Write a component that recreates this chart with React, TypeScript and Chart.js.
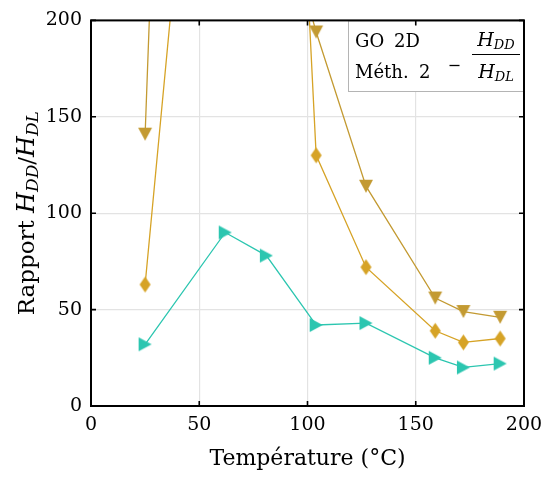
import React, { useEffect, useRef } from 'react';
import { Chart, registerables } from 'chart.js';

Chart.register(...registerables);

// ---- Data ----
const temperatures = [25, 62, 81, 104, 127, 159, 172, 189];
// GO 2D, méthode 2 : rapport H_DD / H_DL (values at 62 and 81 lie far above the axis)
const rapportTriangleDown = [141, 1270, 286, 194, 114, 56, 49, 46];
const rapportDiamond = [63, 503, 650, 130, 72, 39, 33, 35];
const rapportTriangleRight = [32, 90, 78, 42, 43, 25, 20, 22];

const xTickValues = [0, 50, 100, 150, 200];
const yTickValues = [0, 50, 100, 150, 200];

const xTitle = 'Température (°C)';
const yTitleWord = 'Rapport ';
const legendLine1 = ['GO', '2D'];
const legendLine2 = ['Méth.', '2'];

const GOLD_DARK = '#c39a32';
const GOLD = '#d6a326';
const TEAL = '#2cc6b0';

const SERIF = '"DejaVu Serif", serif';

function makeMarker(kind: string, color: string, w: number, h: number) {
  const pad = 1;
  const c = document.createElement('canvas');
  c.width = w + pad * 2;
  c.height = h + pad * 2;
  const g = c.getContext('2d')!;
  g.fillStyle = color;
  g.beginPath();
  const x0 = pad, y0 = pad;
  if (kind === 'down') {
    g.moveTo(x0, y0);
    g.lineTo(x0 + w, y0);
    g.lineTo(x0 + w / 2, y0 + h);
  } else if (kind === 'right') {
    g.moveTo(x0, y0);
    g.lineTo(x0 + w, y0 + h / 2);
    g.lineTo(x0, y0 + h);
  } else {
    g.moveTo(x0 + w / 2, y0);
    g.lineTo(x0 + w, y0 + h / 2);
    g.lineTo(x0 + w / 2, y0 + h);
    g.lineTo(x0, y0 + h / 2);
  }
  g.closePath();
  g.fill();
  return c;
}

type Part = { t: string; font: string; dy?: number };

function partsWidth(ctx: CanvasRenderingContext2D, parts: Part[]) {
  let w = 0;
  for (const p of parts) {
    ctx.font = p.font;
    w += ctx.measureText(p.t).width;
  }
  return w;
}

function drawParts(ctx: CanvasRenderingContext2D, parts: Part[], cx: number, baseline: number) {
  const total = partsWidth(ctx, parts);
  let x = cx - total / 2;
  ctx.textAlign = 'left';
  ctx.textBaseline = 'alphabetic';
  for (const p of parts) {
    ctx.font = p.font;
    ctx.fillText(p.t, x, baseline + (p.dy || 0));
    x += ctx.measureText(p.t).width;
  }
}

const decorPlugin = {
  id: 'decor',
  afterDraw(chart: any) {
    const { ctx, chartArea } = chart;
    const { left, right, top, bottom } = chartArea;
    const xs = chart.scales.x;
    const ys = chart.scales.y;
    ctx.save();

    // legend box
    const boxL = 348.5;
    const boxB = 91.5;
    ctx.fillStyle = '#ffffff';
    ctx.fillRect(boxL, top, right - boxL, boxB - top);
    ctx.strokeStyle = '#b4b4b4';
    ctx.lineWidth = 1;
    ctx.strokeRect(boxL, top + 0.5, right - boxL, boxB - top - 0.5);

    ctx.fillStyle = '#000';
    ctx.textAlign = 'left';
    ctx.textBaseline = 'alphabetic';
    ctx.font = `18px ${SERIF}`;
    ctx.fillText(legendLine1[0], 355, 47);
    ctx.fillText(legendLine1[1], 394, 47);
    ctx.fillText(legendLine2[0], 355, 78);
    ctx.fillText(legendLine2[1], 419, 78);
    // dash between label and fraction
    ctx.strokeStyle = '#000';
    ctx.lineWidth = 1.3;
    ctx.beginPath();
    ctx.moveTo(449.5, 65.5);
    ctx.lineTo(459.5, 65.5);
    ctx.stroke();
    const num: Part[] = [
      { t: 'H', font: `italic 19px ${SERIF}` },
      { t: 'DD', font: `italic 13px ${SERIF}`, dy: 3 },
    ];
    const den: Part[] = [
      { t: 'H', font: `italic 19px ${SERIF}` },
      { t: 'DL', font: `italic 13px ${SERIF}`, dy: 3 },
    ];
    drawParts(ctx, num, 496, 46);
    drawParts(ctx, den, 496, 78);
    ctx.lineWidth = 1;
    ctx.beginPath();
    ctx.moveTo(472, 54.5);
    ctx.lineTo(520, 54.5);
    ctx.stroke();

    // frame
    ctx.strokeStyle = '#000';
    ctx.lineWidth = 2;
    ctx.strokeRect(left, top, right - left, bottom - top);

    // inward ticks on all four sides
    const tl = 5;
    ctx.lineWidth = 1.6;
    ctx.beginPath();
    for (const v of xTickValues) {
      const px = xs.getPixelForValue(v);
      ctx.moveTo(px, bottom);
      ctx.lineTo(px, bottom - tl);
      ctx.moveTo(px, top);
      ctx.lineTo(px, top + tl);
    }
    for (const v of yTickValues) {
      const py = ys.getPixelForValue(v);
      ctx.moveTo(left, py);
      ctx.lineTo(left + tl, py);
      ctx.moveTo(right, py);
      ctx.lineTo(right - tl, py);
    }
    ctx.stroke();

    // x title
    ctx.fillStyle = '#000';
    ctx.font = `22px ${SERIF}`;
    ctx.textAlign = 'center';
    ctx.textBaseline = 'alphabetic';
    ctx.fillText(xTitle, (left + right) / 2, 465);

    // y title (rotated)
    ctx.translate(34, (top + bottom) / 2);
    ctx.rotate(-Math.PI / 2);
    const yParts: Part[] = [
      { t: yTitleWord, font: `23px ${SERIF}` },
      { t: 'H', font: `italic 24px ${SERIF}` },
      { t: 'DD', font: `italic 17px ${SERIF}`, dy: 4 },
      { t: '/', font: `23px ${SERIF}` },
      { t: 'H', font: `italic 24px ${SERIF}` },
      { t: 'DL', font: `italic 17px ${SERIF}`, dy: 4 },
    ];
    drawParts(ctx, yParts, 0, 0);
    ctx.restore();
  },
};

export default function App() {
  const ref = useRef<HTMLCanvasElement | null>(null);

  useEffect(() => {
    const canvas = ref.current;
    if (!canvas) return;
    const mDown = makeMarker('down', GOLD_DARK, 14, 13);
    const mDiamond = makeMarker('diamond', GOLD, 11, 16);
    const mRight = makeMarker('right', TEAL, 13, 14);

    const toPts = (ys: number[]) => temperatures.map((x, i) => ({ x, y: ys[i] }));

    const chart = new Chart(canvas, {
      type: 'line',
      data: {
        datasets: [
          {
            label: 'down',
            data: toPts(rapportTriangleDown),
            borderColor: GOLD_DARK,
            borderWidth: 1.3,
            pointStyle: mDown as any,
            pointRadius: 7,
            tension: 0,
          },
          {
            label: 'diamond',
            data: toPts(rapportDiamond),
            borderColor: GOLD,
            borderWidth: 1.3,
            pointStyle: mDiamond as any,
            pointRadius: 7,
            tension: 0,
          },
          {
            label: 'right',
            data: toPts(rapportTriangleRight),
            borderColor: TEAL,
            borderWidth: 1.3,
            pointStyle: mRight as any,
            pointRadius: 7,
            tension: 0,
          },
        ],
      },
      options: {
        animation: false,
        responsive: false,
        maintainAspectRatio: false,
        layout: { padding: { top: 19, right: 27, left: 0, bottom: 0 } },
        plugins: {
          legend: { display: false },
          tooltip: { enabled: false },
        },
        scales: {
          x: {
            type: 'linear',
            min: 0,
            max: 200,
            afterBuildTicks: (s: any) => {
              s.ticks = xTickValues.map((v) => ({ value: v }));
            },
            afterFit: (s: any) => {
              s.height = 71;
            },
            grid: { color: '#e3e3e3', lineWidth: 1.2, drawTicks: false },
            border: { display: false },
            ticks: {
              padding: 8,
              color: '#000',
              maxRotation: 0,
              font: { family: SERIF, size: 19 },
            },
          },
          y: {
            type: 'linear',
            min: 0,
            max: 200,
            afterBuildTicks: (s: any) => {
              s.ticks = yTickValues.map((v) => ({ value: v }));
            },
            afterFit: (s: any) => {
              s.width = 91;
            },
            grid: { color: '#e3e3e3', lineWidth: 1.2, drawTicks: false },
            border: { display: false },
            ticks: {
              padding: 9,
              color: '#000',
              font: { family: SERIF, size: 19 },
            },
          },
        },
      },
      plugins: [decorPlugin],
    });
    return () => chart.destroy();
  }, []);

  return (
    <div style={{ position: 'fixed', left: 0, top: 0, width: 551, height: 477, background: '#fff' }}>
      <canvas ref={ref} width={551} height={477} style={{ width: 551, height: 477, display: 'block' }} />
    </div>
  );
}
